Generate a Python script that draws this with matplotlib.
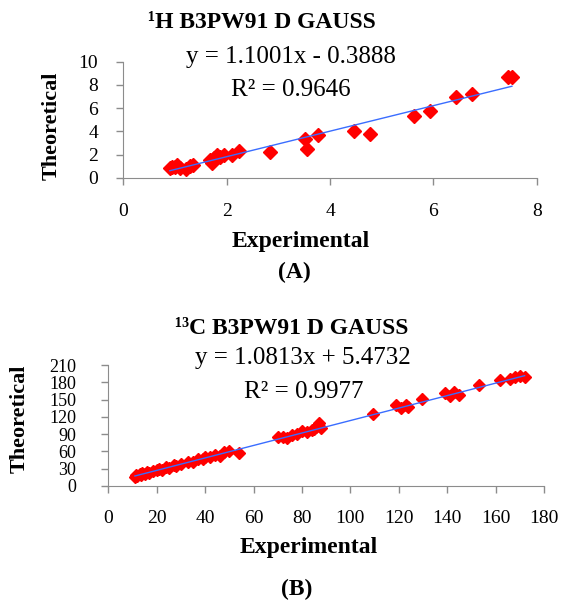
import numpy as np
from matplotlib import pyplot as plt

# 1H shifts (A)
h_exp = [0.90, 0.95, 1.00, 1.03, 1.10, 1.21, 1.30, 1.35, 1.68, 1.71, 1.75, 1.81,
         1.87, 1.95, 2.10, 2.23, 2.84, 3.51, 3.55, 3.77, 4.46, 4.77, 5.63, 5.94,
         6.44, 6.74, 7.45, 7.52]
h_theo = [0.81, 0.95, 0.90, 1.09, 0.85, 0.72, 1.05, 1.09, 1.53, 1.24, 1.70, 1.96,
          1.82, 2.00, 1.96, 2.30, 2.19, 3.31, 2.45, 3.68, 4.05, 3.77, 5.32, 5.75,
          6.99, 7.20, 8.71, 8.65]

# 13C shifts (B)
c_exp = [11, 11.5, 12, 13, 13.5, 14, 15, 16, 17, 18.5, 20, 21, 22, 24, 25, 27, 28,
         30, 33, 35, 37, 39, 40, 42, 44, 46, 48, 50, 54, 70, 72, 74, 76, 78, 80,
         82, 84, 85, 86, 87, 88, 109.5, 119, 121, 123, 124, 129.5, 139, 141, 143,
         145, 153, 162, 166, 168, 170, 172]
c_theo = [15.5, 19.0, 17.0, 21.0, 18.5, 22.0, 20.5, 24.5, 23.0, 26.0, 27.5, 29.5,
          28.0, 33.0, 31.0, 36.5, 34.5, 38.0, 42.5, 41.5, 47.0, 46.0, 50.5, 49.5,
          54.0, 52.5, 58.5, 61.0, 56.7, 84.5, 85.6, 83.5, 89.0, 90.5, 95.0, 93.0,
          97.5, 99.0, 103.0, 108.8, 101.0, 125.5, 140.6, 136.0, 141.0, 137.5, 150.5,
          160.9, 156.0, 162.5, 157.5, 175.3, 184.0, 186.0, 189.5, 191.0, 189.0]

h_ticks_x = [0, 2, 4, 6, 8]
h_ticks_y = [0, 2, 4, 6, 8, 10]
c_ticks_x = list(range(0, 181, 20))
c_ticks_y = list(range(0, 211, 30))

plt.rcParams['font.family'] = ['Liberation Serif', 'DejaVu Serif']

W, H = 562, 603
fig = plt.figure(figsize=(W / 100, H / 100), dpi=100)


def fx(px):
    return px / W


def fy(py):
    return 1 - py / H


def txt(x, y, s, **kw):
    fig.text(fx(x), fy(y), s, ha='center', va='center', **kw)


def style(ax, xpad, ypad):
    ax.spines['right'].set_color('none')
    ax.spines['top'].set_color('none')
    ax.spines['left'].set_color('#8c8c8c')
    ax.spines['bottom'].set_color('#8c8c8c')
    ax.tick_params(direction='out', length=5, width=1, color='#8c8c8c',
                   labelsize=14)
    ax.tick_params(axis='x', pad=xpad)
    ax.tick_params(axis='y', pad=ypad)


ax1 = fig.add_axes([fx(123.3), fy(177.7), fx(536.7) - fx(123.3), fy(61.7) - fy(177.7)])
style(ax1, 13, 13)
ax1.plot(h_exp, h_theo, 'D', color='red', ms=7, zorder=3)
xx = np.array([min(h_exp), max(h_exp)])
ax1.plot(xx, 1.1001 * xx - 0.3888, color='#3a6dff', lw=1, zorder=4)
ax1.set_xlim(0, 8)
ax1.set_ylim(0, 10)
ax1.set_xticks(h_ticks_x)
ax1.set_yticks(h_ticks_y)

ax2 = fig.add_axes([fx(108.3), fy(486), fx(544) - fx(108.3), fy(365) - fy(486)])
style(ax2, 12, 18)
ax2.tick_params(axis='y', labelsize=13)
ax2.plot(c_exp, c_theo, 'D', color='red', ms=6.5, zorder=3)
xx = np.array([min(c_exp), max(c_exp)])
ax2.plot(xx, 1.0813 * xx + 5.4732, color='#3a6dff', lw=1, zorder=4)
ax2.set_xlim(0, 180)
ax2.set_ylim(0, 210)
ax2.set_xticks(c_ticks_x)
ax2.set_yticks(c_ticks_y)

txt(262, 22, '¹H B3PW91 D GAUSS', fontsize=17, fontweight='bold')
txt(291, 57, 'y = 1.1001x - 0.3888', fontsize=18)
txt(291, 90, 'R² = 0.9646', fontsize=18)
txt(301, 242, 'Experimental', fontsize=17, fontweight='bold')
txt(294, 272, '(A)', fontsize=17, fontweight='bold')
fig.text(fx(52), fy(126), 'Theoretical', rotation=90, ha='center', va='center',
         fontsize=16, fontweight='bold')

txt(292, 328, '¹³C B3PW91 D GAUSS', fontsize=17, fontweight='bold')
txt(303, 358, 'y = 1.0813x + 5.4732', fontsize=18)
txt(304, 392, 'R² = 0.9977', fontsize=18)
txt(309, 548, 'Experimental', fontsize=17, fontweight='bold')
txt(297, 589, '(B)', fontsize=17, fontweight='bold')
fig.text(fx(20), fy(419), 'Theoretical', rotation=90, ha='center', va='center',
         fontsize=16, fontweight='bold')

plt.savefig('out.png', dpi=100)
